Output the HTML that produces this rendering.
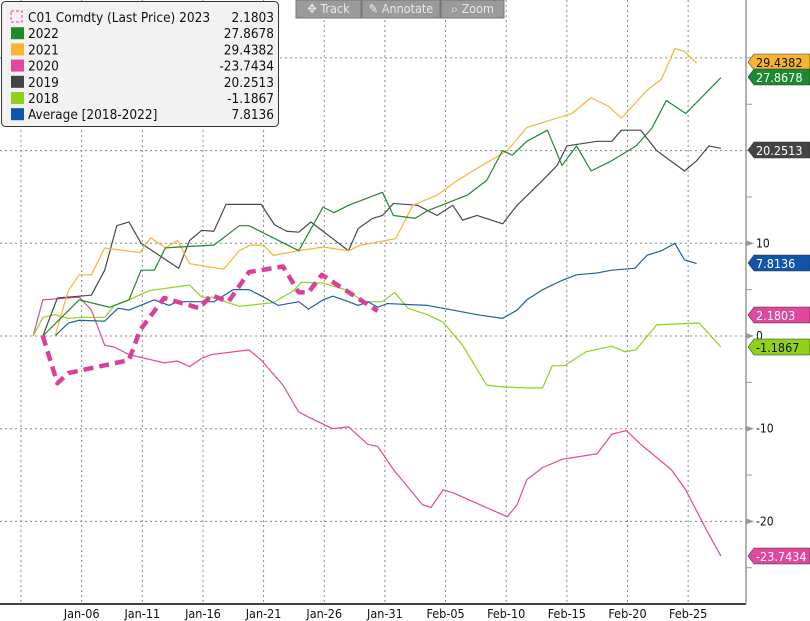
<!DOCTYPE html>
<html><head><meta charset="utf-8">
<style>
body{margin:0;background:#fff;font-family:"Liberation Sans","DejaVu Sans",sans-serif;}
#wrap{position:relative;width:810px;height:621px;overflow:hidden;background:#fff}
svg text{font-family:"DejaVu Sans Condensed","DejaVu Sans","Liberation Sans",sans-serif}
</style></head><body>
<div id="wrap">
<svg id="chart" width="810" height="621"></svg>
</div>
<script>
// day = calendar day of year (Jan-01 = 0), value = change
const xTickLabels=["Jan-06","Jan-11","Jan-16","Jan-21","Jan-26","Jan-31","Feb-05","Feb-10","Feb-15","Feb-20","Feb-25"];
const xTickDays=[5,10,15,20,25,30,35,40,45,50,55];
const yTicks=[-20,-10,0,10];
const yGrid=[-20,-10,0,10,20,30];
const d2023=[1.8,3.0,3.9,8.9,9.8,11.8,14.7,15.7,17.1,18.8,21.6,22.9,23.7,24.8,29.4];
const v2023=[0,-5.1,-4.0,-2.6,0.6,4.1,3.0,4.4,3.7,6.9,7.5,4.7,4.7,6.6,2.7];
const d2022=[1.8,4.8,7.3,8.9,9.9,11.0,11.9,13.0,15.9,18.0,18.8,22.9,24.9,25.8,27.0,29.8,30.7,32.5,33.5,36.8,38.4,39.7,40.5,41.7,43.4,44.6,45.8,47.0,48.7,50.7,52.0,53.2,54.8,57.7];
const v2022=[0,3.9,3.1,3.9,7.1,7.1,9.5,9.6,9.8,11.9,11.9,9.2,13.9,13.3,14.1,15.5,13.0,12.7,13.5,15.2,16.8,20.0,19.5,21.0,22.2,18.4,20.5,17.8,18.9,20.5,22.4,25.4,24.0,27.87];
const d2021=[2.8,3.9,4.8,5.8,6.9,9.8,10.7,11.9,12.9,13.9,16.7,18.0,18.9,20.0,20.8,22.9,24.9,27.0,28.0,30.9,32.3,34.3,36.0,38.0,40.1,41.7,45.4,47.0,48.4,49.5,51.6,52.8,53.9,54.7,55.7];
const v2021=[0,4.9,6.6,6.6,9.5,9.0,10.6,9.5,10.3,7.8,7.2,9.2,9.8,9.8,8.7,9.2,9.6,9.2,9.8,10.5,14.1,15.2,16.8,18.4,20.0,22.5,24.0,25.7,24.8,23.5,26.5,27.7,31.0,30.7,29.44];
const d2020=[1.0,1.8,4.8,5.8,6.9,7.7,8.9,11.8,12.9,13.9,14.9,15.7,18.8,19.8,21.6,22.9,24.1,25.7,27.0,28.6,29.4,30.7,33.1,33.8,34.8,35.6,36.8,40.1,40.9,41.7,43.0,44.6,47.5,48.7,49.9,51.1,53.6,54.8,56.5,57.7];
const v2020=[0,3.9,4.2,2.8,-1.0,-1.2,-2.0,-2.9,-2.7,-3.3,-2.4,-2.0,-1.5,-2.6,-5.3,-8.2,-9.0,-10.0,-9.8,-11.7,-11.9,-14.4,-18.2,-18.5,-16.6,-16.9,-17.6,-19.5,-18.2,-15.5,-14.2,-13.3,-12.7,-10.6,-10.2,-11.7,-14.4,-16.6,-20.9,-23.74];
const d2019=[1.8,3.0,5.8,6.9,7.9,8.9,9.9,13.0,13.9,14.9,15.9,16.9,19.8,20.9,21.9,22.9,23.9,27.0,27.8,29.0,29.8,30.7,32.7,34.3,35.6,36.4,37.6,39.7,40.9,43.0,44.2,45.0,47.5,48.7,49.5,51.1,52.4,54.7,55.7,56.7,57.7];
const v2019=[0,4.1,4.4,7.1,11.9,12.3,10.0,7.3,10.3,11.4,11.3,14.2,14.2,12.0,11.3,11.2,12.3,9.2,11.6,12.7,13.0,14.3,14.1,13.0,14.1,12.5,13.0,12.1,14.1,16.8,18.4,20.5,21.0,21.0,22.2,22.2,20.0,17.8,18.9,20.5,20.25];
const d2018=[1.0,1.8,2.8,3.9,4.8,6.9,7.7,8.9,10.6,13.9,14.9,15.7,18.0,20.8,22.5,23.1,24.9,27.0,28.2,29.8,30.8,31.9,33.5,34.8,36.4,38.4,39.7,41.7,43.0,43.8,44.8,46.6,48.7,49.8,50.7,52.4,55.9,57.7];
const v2018=[0,2.0,2.3,1.9,2.0,2.0,3.3,3.9,4.9,5.5,4.2,4.2,3.2,3.6,4.9,5.8,5.7,4.9,3.7,3.7,4.7,3.0,2.3,1.5,-1.0,-5.3,-5.5,-5.6,-5.6,-3.2,-3.2,-1.7,-1.1,-1.7,-1.5,1.2,1.4,-1.19];
const dAvg=[2.8,3.9,4.8,6.9,8.0,8.9,11.0,12.2,12.9,15.9,17.5,18.8,20.0,21.2,22.9,23.7,24.9,25.7,27.0,27.8,28.6,29.4,30.2,33.5,35.6,37.6,39.7,40.9,41.7,43.0,44.6,45.8,47.5,48.7,50.6,51.6,52.8,53.9,54.7,55.7];
const vAvg=[0,1.4,1.7,1.6,3.0,2.8,3.9,3.3,3.7,3.7,5.0,5.0,4.2,3.3,3.7,2.9,3.9,4.3,3.7,3.3,3.7,3.1,3.5,3.3,2.8,2.3,1.9,2.8,3.9,5.0,6.0,6.6,6.8,7.1,7.3,8.7,9.2,10.0,8.2,7.81];
const lastLabels=["29.4382","27.8678","20.2513","7.8136","2.1803","-1.1867","-23.7434"];
const lastValues=[29.4382,27.8678,20.2513,7.8136,2.1803,-1.1867,-23.7434];
const legendNames=["C01 Comdty (Last Price) 2023","2022","2021","2020","2019","2018","Average  [2018-2022]"];
const legendVals=["2.1803","27.8678","29.4382","-23.7434","20.2513","-1.1867","7.8136"];

const NS="http://www.w3.org/2000/svg";
const svg=document.getElementById('chart');
const X=d=>21+d*12.13;
const Y=v=>336-v*9.27;
function el(t,a,p){const e=document.createElementNS(NS,t);for(const k in a)e.setAttribute(k,a[k]);(p||svg).appendChild(e);return e;}

yGrid.forEach(v=>{const g=el('line',{x1:0,x2:746,y1:Y(v),y2:Y(v),stroke:'#888','stroke-width':1,'stroke-dasharray':'2,3'});

});
[0].concat(xTickDays).forEach(d=>{const g=el('line',{x1:X(d),x2:X(d),y1:0,y2:604,stroke:'#888','stroke-width':1,'stroke-dasharray':'2,3'});

});
const ax=el('line',{x1:0,x2:746,y1:604,y2:604,stroke:'#000','stroke-width':1.5});


const ay=el('line',{x1:746,x2:746,y1:0,y2:604,stroke:'#999','stroke-width':1.5});


for(let v=-25;v<=30;v+=5){el('line',{x1:746,x2:752,y1:Y(v),y2:Y(v),stroke:'#999','stroke-width':1});}
xTickLabels.forEach((l,i)=>{const t=el('text',{x:X(xTickDays[i]),y:618,'font-size':12.5,'text-anchor':'middle',fill:'#111'});t.textContent=l;

});
yTicks.forEach(v=>{el('path',{d:`M746 ${Y(v)-3} L754 ${Y(v)} L746 ${Y(v)+3}Z`,fill:'#999'});
const t=el('text',{x:756,y:Y(v)+4,'font-size':12,fill:'#111'});t.textContent=v;

});

function line(ds,vs,color,w,name,dash){
 const p=el('polyline',{points:ds.map((d,i)=>X(d)+','+Y(vs[i])).join(' '),fill:'none',stroke:color,'stroke-width':w,'stroke-linejoin':'round'});
 if(dash)p.setAttribute('stroke-dasharray',dash);
 
 
}
line(d2020,v2020,'#e0479e',1.2,'series-2020');
line(d2018,v2018,'#8ed21b',1.2,'series-2018');
line(dAvg,vAvg,'#1d5ea8',1.2,'series-average');
line(d2019,v2019,'#4a4a4a',1.2,'series-2019');
line(d2021,v2021,'#f7b432',1.2,'series-2021');
line(d2022,v2022,'#1c8a2e',1.2,'series-2022');
line(d2023,v2023,'#dc3f9a',4.5,'series-2023','10,6');

const boxCol=['#f7b432','#1c8a2e','#444444','#0f56a8','#e0479e','#8ed21b','#e0479e'];
const boxTxt=['#111','#fff','#fff','#fff','#fff','#111','#fff'];
const boxY=[62,77,150,263,315,347,556];
lastLabels.forEach((l,i)=>{const y=boxY[i];
 const b=el('path',{d:`M748 ${y} L754 ${y-8} L810 ${y-8} L810 ${y+8} L754 ${y+8}Z`,fill:boxCol[i],stroke:'#333','stroke-width':0.6});
 
 
 const t=el('text',{x:756,y:y+5,'font-size':12.5,fill:boxTxt[i]});t.textContent=l;
 
 
});

const lg=el('g',{});


el('rect',{x:1.5,y:1.5,width:277,height:125,rx:4,fill:'#f2f2f2',stroke:'#333','stroke-width':1},lg);
const lgCol=[null,'#1c8a2e','#f7b432','#e0479e','#444444','#8ed21b','#0f56a8'];
legendNames.forEach((n,i)=>{const y=17+i*16.2;
 if(i===0){el('rect',{x:11,y:y-6,width:11,height:11,fill:'none',stroke:'#dc3f9a','stroke-width':1,'stroke-dasharray':'3,2'},lg);}
 else el('rect',{x:11,y:y-6,width:13,height:12,fill:lgCol[i]},lg);
 const t=el('text',{x:28,y:y+5,'font-size':13.5,fill:'#111'},lg);t.textContent=n;
 
 
 const v=el('text',{x:274,y:y+5,'font-size':13.5,fill:'#111','text-anchor':'end'},lg);v.textContent=legendVals[i];
 
 
});

const tb=[["✥ Track",296,65],["✎ Annotate",362,78],["⌕ Zoom",441,63]];
tb.forEach(b=>{const r=el('rect',{x:b[1],y:0,width:b[2],height:18,fill:'#9a9a9a',stroke:'#777'});
 
 
 const t=el('text',{x:b[1]+b[2]/2,y:13,'font-size':12.5,fill:'#e8e8e8','text-anchor':'middle'});t.textContent=b[0];
 
 
});
</script>
</body></html>
